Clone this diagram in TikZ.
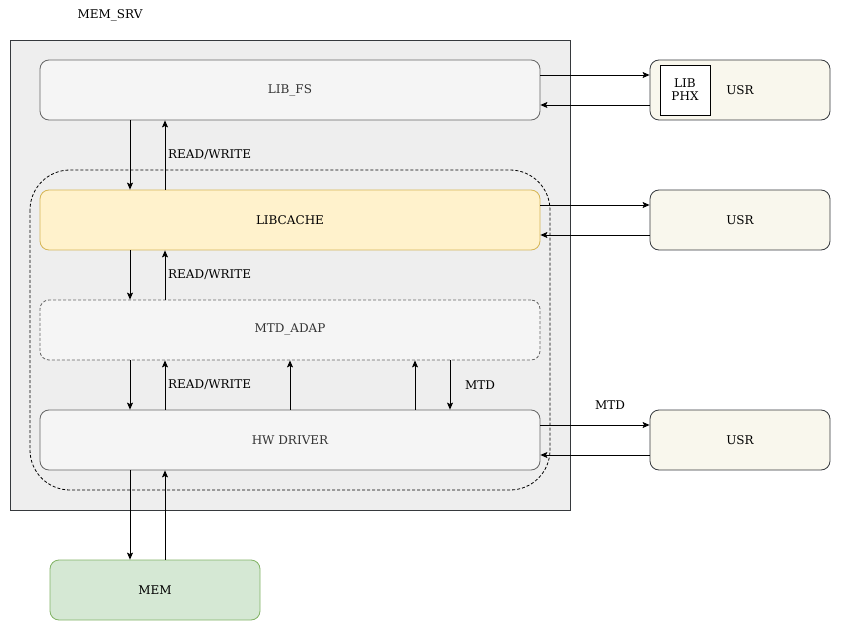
\documentclass[tikz,border=0pt]{standalone}
\usepackage{fontspec}
\setmainfont{DejaVu Serif}
\usetikzlibrary{arrows.meta}

\definecolor{srvFill}{HTML}{EEEEEE}
\definecolor{srvLine}{HTML}{36393D}
\definecolor{boxFill}{HTML}{F5F5F5}
\definecolor{boxLine}{HTML}{666666}
\definecolor{boxText}{HTML}{333333}
\definecolor{cacheFill}{HTML}{FFF2CC}
\definecolor{cacheLine}{HTML}{D6B656}
\definecolor{memFill}{HTML}{D5E8D4}
\definecolor{memLine}{HTML}{82B366}
\definecolor{usrFill}{HTML}{F9F7ED}

\tikzset{
  layer/.style={draw=boxLine, fill=boxFill, text=boxText, rounded corners=9pt,
    minimum width=500pt, minimum height=60pt, inner sep=0pt, line width=0.8pt},
  usrbox/.style={draw=srvLine, fill=usrFill, rounded corners=9pt,
    minimum width=180pt, minimum height=60pt, inner sep=0pt, line width=0.8pt},
  flow/.style={-{Stealth[length=7pt,width=6pt,inset=1.5pt]}, line width=0.9pt},
  tag/.style={anchor=west, inner sep=0pt}
}

\begin{document}
\begin{tikzpicture}[x=1pt, y=-1pt, font=\fontsize{12}{14}\selectfont]
      \useasboundingbox (0,0) rectangle (841,631);

      % server frame
      \draw[draw=srvLine, fill=srvFill, line width=0.8pt] (10,40) rectangle (570,510);
      \node (srvlabel) at (110,15) {MEM\_SRV};
      \draw[dashed, dash pattern=on 3pt off 2pt, rounded corners=40pt, line width=0.8pt]
        (30,170) rectangle (550,490);

      % layers
      \node[layer] (libfs) at (290,90) {LIB\_FS};
      \node[layer, draw=cacheLine, fill=cacheFill, text=black]
        (cache) at (290,220) {LIBCACHE};
      \node[layer, dashed, dash pattern=on 3pt off 2pt]
        (adap) at (290,330) {MTD\_ADAP};
      \node[layer] (hw) at (290,440) {HW DRIVER};
      \node[layer, draw=memLine, fill=memFill, text=black,
        minimum width=210pt] (mem) at (155,590) {MEM};

      % users
      \node[usrbox] (usrA) at (740,90) {USR};
      \node[draw, fill=white, minimum width=50pt, minimum height=50pt,
        inner sep=0pt, align=center, font=\fontsize{12}{13}\selectfont]
        (phx) at (685,90) {LIB\\PHX};
      \node[usrbox] (usrB) at (740,220) {USR};
      \node[usrbox] (usrC) at (740,440) {USR};

      % columns
      \coordinate (down) at (130,0);
      \coordinate (up) at (165,0);
      \coordinate (upB) at (290,0);
      \coordinate (upC) at (415,0);
      \coordinate (downB) at (450,0);

      \draw[flow] (libfs.south -| down) -- (cache.north -| down);
      \draw[flow] (cache.north -| up) -- (libfs.south -| up);
      \node[tag] (rwA) at (168,155) {READ/WRITE};

      \draw[flow] (cache.south -| down) -- (adap.north -| down);
      \draw[flow] (adap.north -| up) -- (cache.south -| up);
      \node[tag] (rwB) at (168,275) {READ/WRITE};

      \draw[flow] (adap.south -| down) -- (hw.north -| down);
      \draw[flow] (hw.north -| up) -- (adap.south -| up);
      \node[tag] (rwC) at (168,385) {READ/WRITE};
      \draw[flow] (hw.north -| upB) -- (adap.south -| upB);
      \draw[flow] (hw.north -| upC) -- (adap.south -| upC);
      \draw[flow] (adap.south -| downB) -- (hw.north -| downB);
      \node[tag] (mtdA) at (465,385) {MTD};

      \draw[flow] (hw.south -| down) -- (mem.north -| down);
      \draw[flow] (mem.north -| up) -- (hw.south -| up);

      % to users
      \draw[flow] ([yshift=15pt]libfs.east) -- ([yshift=15pt]usrA.west);
      \draw[flow] ([yshift=-15pt]usrA.west) -- ([yshift=-15pt]libfs.east);
      \draw[flow] ([yshift=15pt]cache.east) -- ([yshift=15pt]usrB.west);
      \draw[flow] ([yshift=-15pt]usrB.west) -- ([yshift=-15pt]cache.east);
      \draw[flow] ([yshift=15pt]hw.east) -- ([yshift=15pt]usrC.west);
      \draw[flow] ([yshift=-15pt]usrC.west) -- ([yshift=-15pt]hw.east);
      \node (mtdB) at (610,405) {MTD};
\end{tikzpicture}
\end{document}
